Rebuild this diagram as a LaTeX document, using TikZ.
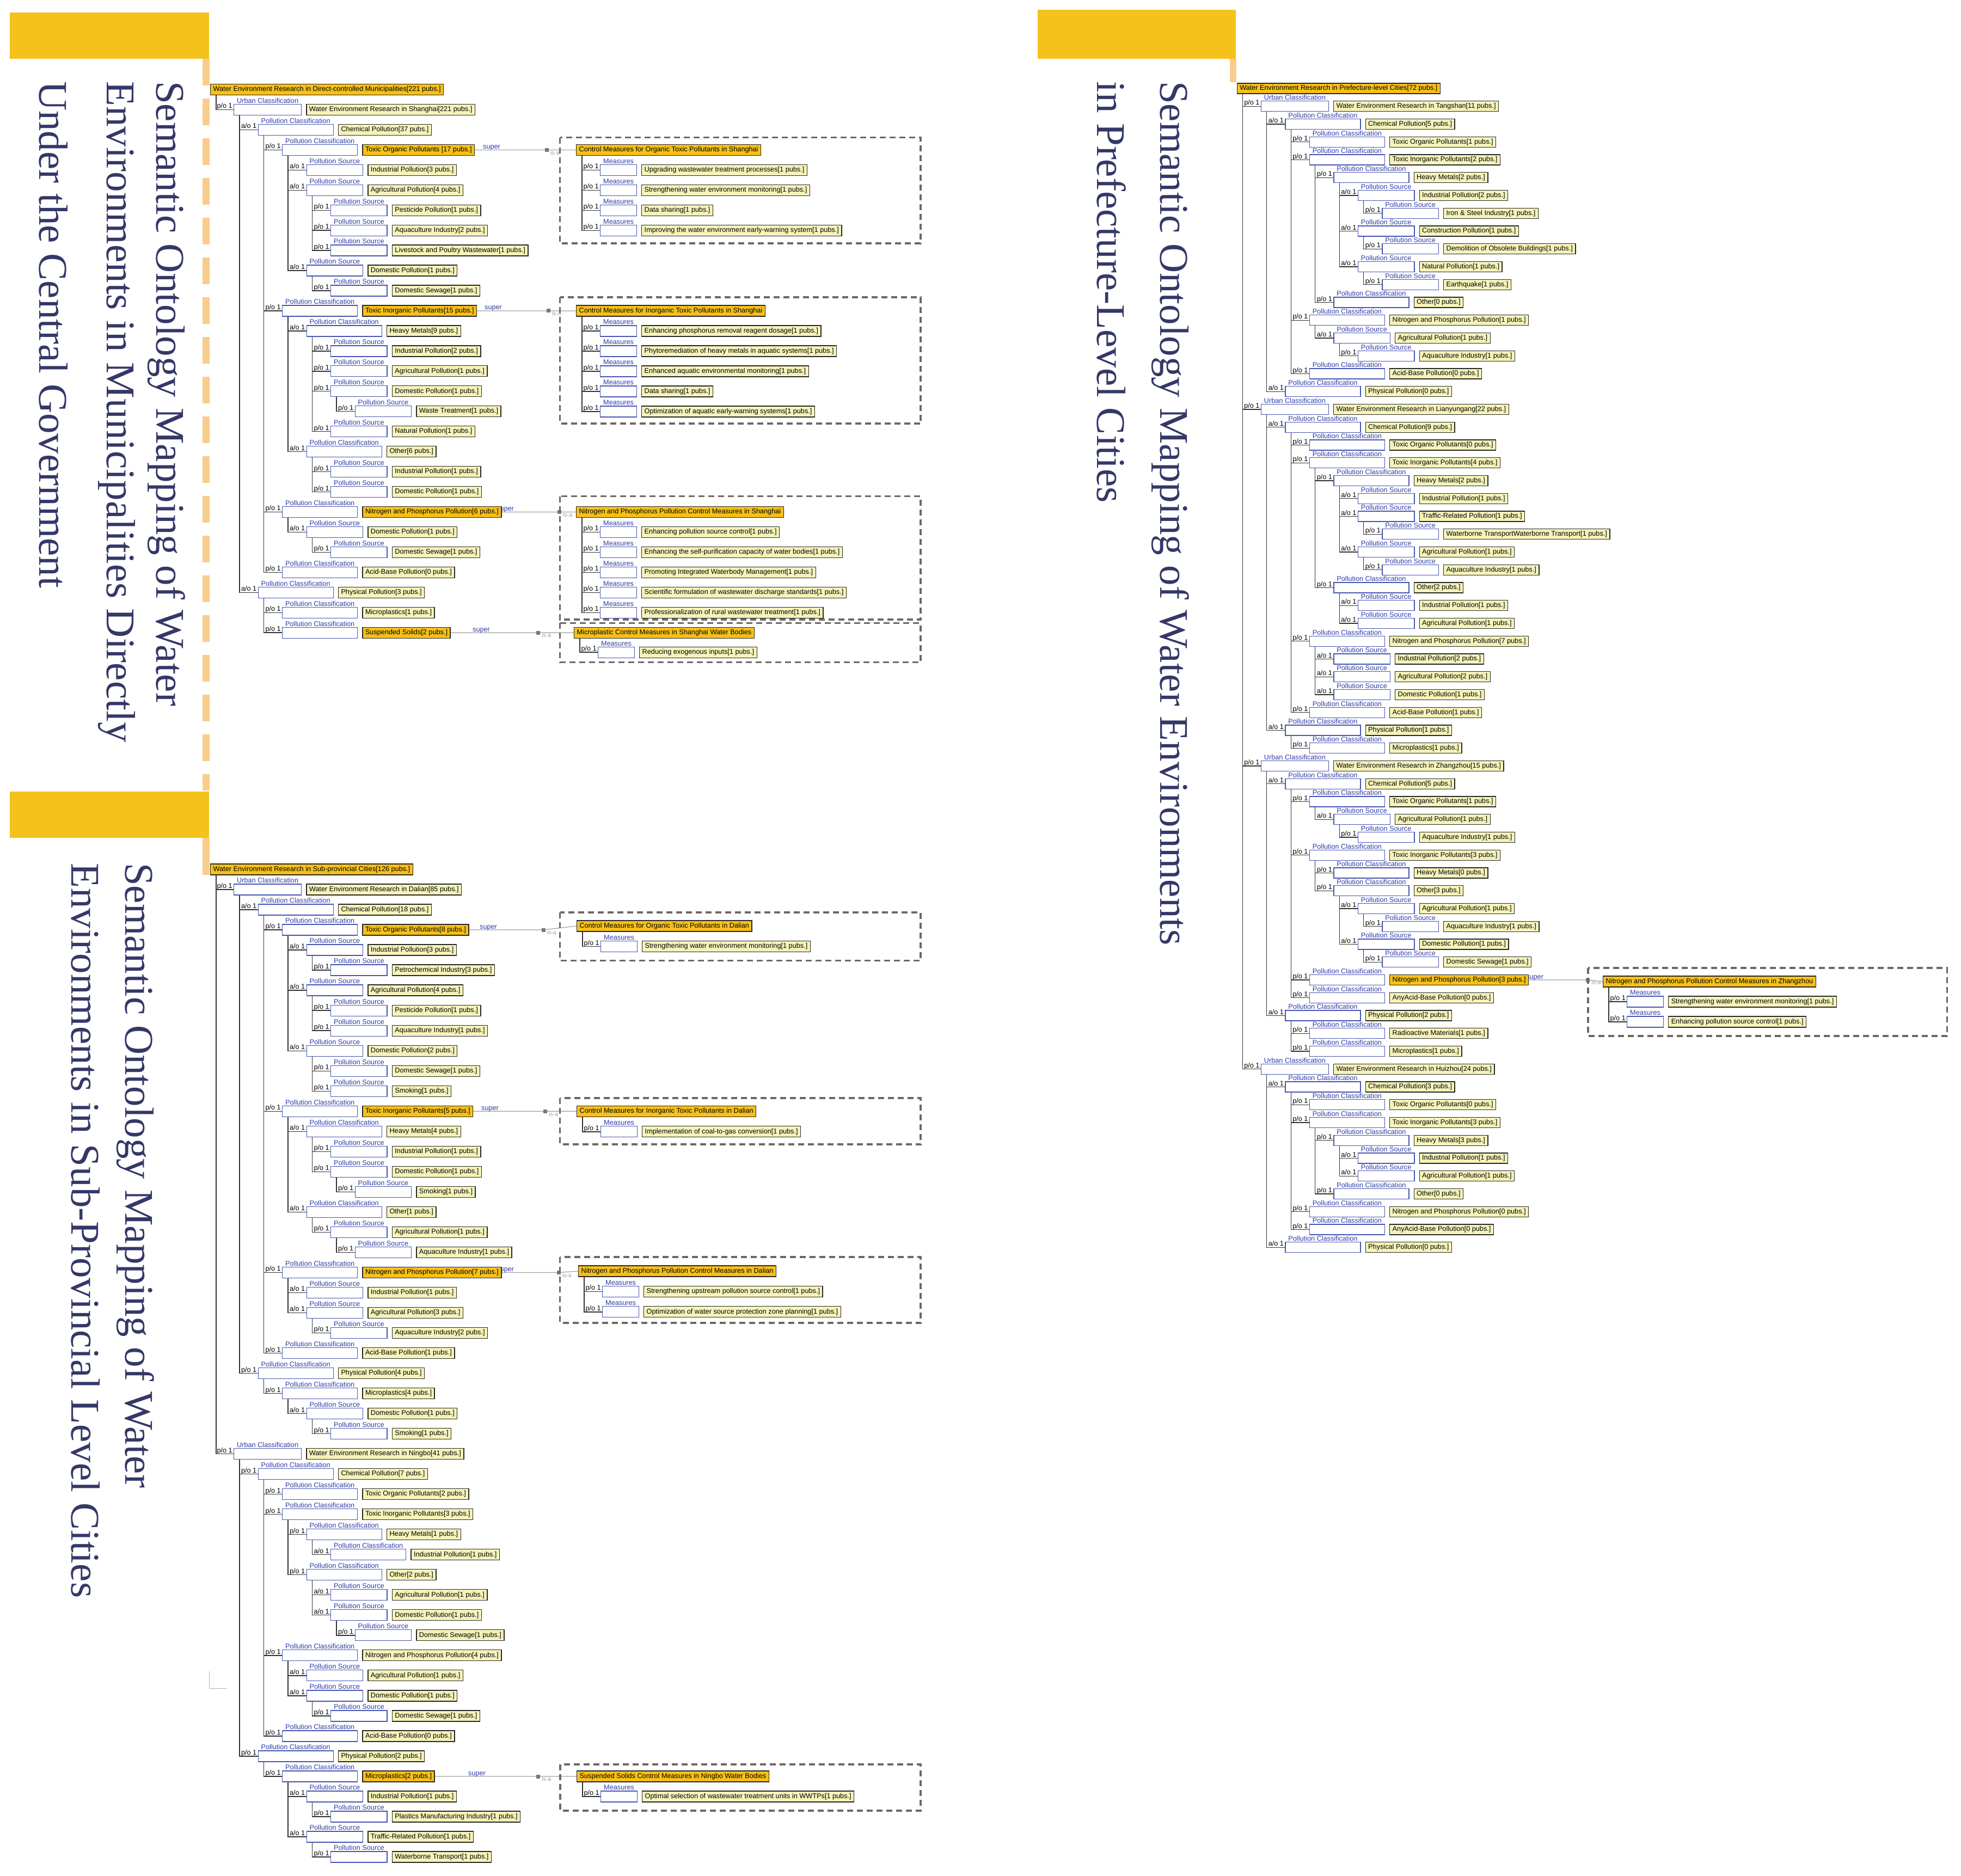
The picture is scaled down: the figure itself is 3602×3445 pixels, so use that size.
\documentclass[tikz,border=0pt]{standalone}
\usepackage{fontspec}
\setmainfont{Liberation Sans}
\newfontfamily\titlefont{Liberation Serif}
\usetikzlibrary{calc}
\definecolor{org}{RGB}{246,192,24}
\definecolor{hdr}{RGB}{245,194,28}
\definecolor{lorg}{RGB}{248,205,140}
\definecolor{ylw}{RGB}{245,243,185}
\definecolor{ndark}{RGB}{40,40,40}
\definecolor{bblue}{RGB}{70,85,180}
\definecolor{lblue}{RGB}{45,60,165}
\definecolor{lined}{RGB}{50,50,50}
\definecolor{pgray}{RGB}{110,104,98}
\definecolor{sgray}{RGB}{160,160,160}
\definecolor{qgray}{RGB}{120,120,120}
\definecolor{ttlc}{RGB}{52,56,104}
\pgfdeclarelayer{back}\pgfdeclarelayer{bg}\pgfsetlayers{back,bg,main}
\def\LABUC{Urban Classification}
\def\LABPC{Pollution Classification}
\def\LABPS{Pollution Source}
\def\LABM{Measures}
\def\RELp{p/o 1}
\def\RELa{a/o 1}
% #2 name, #3 parent, #4 index, #5 depth, #6 relation, #7 label key, #8 text
\newcommand\Rw[8][ynode]{%
  \node[bbox] (#2b) at ({\TX+44.5*#5},{\TY+#4*\TP}) {\phantom{\csname LAB#7\endcsname}};
  \node[lab] (#2l) at ([xshift=6pt,yshift=1.5pt]#2b.north west) {\csname LAB#7\endcsname};
  \node[rel] (#2r) at ([xshift=-2pt,yshift=2.5pt]#2b.west) {\csname REL#6\endcsname};
  \node[#1] (#2) at ([xshift=8pt]#2b.east) {#8};
  \draw[conn] ([xshift=11pt]#3.south west) |- (#2b.west);
}
\newcommand\Rt[3]{\node[onode] (#1) at (#2) {#3};}
% #1 id, #2 tree node, #3 panel root, #4 square x, #5 super x, #6 y
\newcommand\SupL[6]{%
  \coordinate (q#1) at (#4,#6);
  \draw[sline] (#2.east) -- (q#1) -- (#3.west);
  \node[sq] (qs#1) at (q#1) {};
  \node[suplab,yshift=2pt] (su#1) at (#5,#6) {super};
  \node[isalab] (is#1) at ([xshift=3pt,yshift=-1pt]qs#1.east) {is-a};
}
\begin{document}
\begin{tikzpicture}[x=1pt,y=-1pt,
  every node/.style={font=\fontsize{12.7}{15}\selectfont},
  bbox/.style={draw=bblue, line width=1.3pt, fill=white, minimum height=\BH*1pt, inner xsep=5.5pt, inner ysep=0pt, anchor=west},
  ynode/.style={draw=ndark, line width=1.3pt, fill=ylw, minimum height=\BH*1pt, inner xsep=5pt, inner ysep=0pt, anchor=west},
  onode/.style={ynode, fill=org},
  lab/.style={text=lblue, inner sep=0pt, anchor=base west},
  rel/.style={inner sep=0pt, anchor=base east},
  conn/.style={draw=lined, line width=1.4pt},
  panel/.style={draw=pgray, line width=3.2pt, dash pattern=on 11pt off 7pt},
  sline/.style={draw=sgray, line width=1.2pt},
  sq/.style={fill=qgray, minimum size=7pt, inner sep=0pt},
  suplab/.style={text=lblue, inner sep=0pt, anchor=base west},
  isalab/.style={text=sgray, inner sep=0pt, anchor=north west, font=\fontsize{10.5}{12}\selectfont},
  ttlstyle/.style={text=ttlc, inner sep=0pt, rotate=-90, anchor=base west, font=\titlefont\fontsize{75}{80}\selectfont},
]
\begin{pgfonlayer}{back}
\fill[white] (0,0) rectangle (3602,3445);
\end{pgfonlayer}
\useasboundingbox (0,0) rectangle (3602,3445);

% ---------- decorations and titles ----------
\fill[hdr] (18,23) rectangle (384,108);
\draw[lorg, line width=13pt, dash pattern=on 49pt off 24pt] (378.5,108) -- (378.5,1452);
\fill[hdr] (18,1454) rectangle (384,1539);
\fill[lorg] (372,1539) rectangle (385,1607);
\fill[hdr] (1906,18) rectangle (2270,108);
\fill[lorg] (2259,108) rectangle (2271,151);
\draw[gray!60, line width=1pt] (384.7,3070) |- (417,3101);

\node[ttlstyle] (t1) at (287,149) {Semantic Ontology Mapping of Water};
\node[ttlstyle] (t2) at (196,149) {Environments in Municipalities Directly};
\node[ttlstyle] (t3) at (72,149) {Under the Central Government};
\node[ttlstyle] (t4) at (2131,149) {Semantic Ontology Mapping of Water Environments};
\node[ttlstyle] (t5) at (2015,149) {in Prefecture-Level Cities};
\node[ttlstyle] (t6) at (230,1585) {Semantic Ontology Mapping of Water};
\node[ttlstyle] (t7) at (131,1585) {Environments in Sub-Provincial Level Cities};

% ---------- Direct-controlled municipalities ----------
\def\BH{20}\def\TX{429}\def\TY{164.5}\def\TP{36.95}
\Rt{a0}{386,164.5}{Water Environment Research in Direct-controlled Municipalities[221 pubs.]}
\Rw{a1}{a0}{1}{0}{p}{UC}{Water Environment Research in Shanghai[221 pubs.]}
\Rw{a2}{a1b}{2}{1}{a}{PC}{Chemical Pollution[37 pubs.]}
\Rw[onode]{a3}{a2b}{3}{2}{p}{PC}{Toxic Organic Pollutants [17 pubs.]}
\Rw{a4}{a3b}{4}{3}{a}{PS}{Industrial Pollution[3 pubs.]}
\Rw{a5}{a3b}{5}{3}{a}{PS}{Agricultural Pollution[4 pubs.]}
\Rw{a6}{a5b}{6}{4}{p}{PS}{Pesticide Pollution[1 pubs.]}
\Rw{a7}{a5b}{7}{4}{p}{PS}{Aquaculture Industry[2 pubs.]}
\Rw{a8}{a5b}{8}{4}{p}{PS}{Livestock and Poultry Wastewater[1 pubs.]}
\Rw{a9}{a3b}{9}{3}{a}{PS}{Domestic Pollution[1 pubs.]}
\Rw{a10}{a9b}{10}{4}{p}{PS}{Domestic Sewage[1 pubs.]}
\Rw[onode]{a11}{a2b}{11}{2}{p}{PC}{Toxic Inorganic Pollutants[15 pubs.]}
\Rw{a12}{a11b}{12}{3}{a}{PC}{Heavy Metals[9 pubs.]}
\Rw{a13}{a12b}{13}{4}{p}{PS}{Industrial Pollution[2 pubs.]}
\Rw{a14}{a12b}{14}{4}{p}{PS}{Agricultural Pollution[1 pubs.]}
\Rw{a15}{a12b}{15}{4}{p}{PS}{Domestic Pollution[1 pubs.]}
\Rw{a16}{a15b}{16}{5}{p}{PS}{Waste Treatment[1 pubs.]}
\Rw{a17}{a12b}{17}{4}{p}{PS}{Natural Pollution[1 pubs.]}
\Rw{a18}{a11b}{18}{3}{a}{PC}{Other[6 pubs.]}
\Rw{a19}{a18b}{19}{4}{p}{PS}{Industrial Pollution[1 pubs.]}
\Rw{a20}{a18b}{20}{4}{p}{PS}{Domestic Pollution[1 pubs.]}
\Rw[onode]{a21}{a2b}{21}{2}{p}{PC}{Nitrogen and Phosphorus Pollution[6 pubs.]}
\Rw{a22}{a21b}{22}{3}{a}{PS}{Domestic Pollution[1 pubs.]}
\Rw{a23}{a22b}{23}{4}{p}{PS}{Domestic Sewage[1 pubs.]}
\Rw{a24}{a2b}{24}{2}{p}{PC}{Acid-Base Pollution[0 pubs.]}
\Rw{a25}{a1b}{25}{1}{a}{PC}{Physical Pollution[3 pubs.]}
\Rw{a26}{a25b}{26}{2}{p}{PC}{Microplastics[1 pubs.]}
\Rw[onode]{a27}{a25b}{27}{2}{p}{PC}{Suspended Solids[2 pubs.]}

% Shanghai measure panels
\draw[panel] (1028.5,252.5) rectangle (1691,447);
\def\TX{1102}\def\TY{275.35}\def\TP{37}
\Rt{mA}{1058,275.35}{Control Measures for Organic Toxic Pollutants in Shanghai}
\Rw{mA1}{mA}{1}{0}{p}{M}{Upgrading wastewater treatment processes[1 pubs.]}
\Rw{mA2}{mA}{2}{0}{p}{M}{Strengthening water environment monitoring[1 pubs.]}
\Rw{mA3}{mA}{3}{0}{p}{M}{Data sharing[1 pubs.]}
\Rw{mA4}{mA}{4}{0}{p}{M}{Improving the water environment early-warning system[1 pubs.]}

\draw[panel] (1028.5,546) rectangle (1691,778);
\def\TY{570.95}
\Rt{mB}{1058,570.95}{Control Measures for Inorganic Toxic Pollutants in Shanghai}
\Rw{mB1}{mB}{1}{0}{p}{M}{Enhancing phosphorus removal reagent dosage[1 pubs.]}
\Rw{mB2}{mB}{2}{0}{p}{M}{Phytoremediation of heavy metals in aquatic systems[1 pubs.]}
\Rw{mB3}{mB}{3}{0}{p}{M}{Enhanced aquatic environmental monitoring[1 pubs.]}
\Rw{mB4}{mB}{4}{0}{p}{M}{Data sharing[1 pubs.]}
\Rw{mB5}{mB}{5}{0}{p}{M}{Optimization of aquatic early-warning systems[1 pubs.]}

\draw[panel] (1028.5,911.7) rectangle (1691,1138);
\def\TY{940.45}
\Rt{mC}{1058,940.45}{Nitrogen and Phosphorus Pollution Control Measures in Shanghai}
\Rw{mC1}{mC}{1}{0}{p}{M}{Enhancing pollution source control[1 pubs.]}
\Rw{mC2}{mC}{2}{0}{p}{M}{Enhancing the self-purification capacity of water bodies[1 pubs.]}
\Rw{mC3}{mC}{3}{0}{p}{M}{Promoting Integrated Waterbody Management[1 pubs.]}
\Rw{mC4}{mC}{4}{0}{p}{M}{Scientific formulation of wastewater discharge standards[1 pubs.]}
\Rw{mC5}{mC}{5}{0}{p}{M}{Professionalization of rural wastewater treatment[1 pubs.]}

\draw[panel] (1028.5,1144.3) rectangle (1691,1216.7);
\def\TX{1098}\def\TY{1162.15}\def\TP{36}
\Rt{mD}{1054,1162.15}{Microplastic Control Measures in Shanghai Water Bodies}
\Rw{mD1}{mD}{1}{0}{p}{M}{Reducing exogenous inputs[1 pubs.]}

% ---------- Sub-provincial cities ----------
\def\TX{429}\def\TY{1597}\def\TP{37.02}
\Rt{b0}{386,1597}{Water Environment Research in Sub-provincial Cities[126 pubs.]}
\Rw{b1}{b0}{1}{0}{p}{UC}{Water Environment Research in Dalian[85 pubs.]}
\Rw{b2}{b1b}{2}{1}{a}{PC}{Chemical Pollution[18 pubs.]}
\Rw[onode]{b3}{b2b}{3}{2}{p}{PC}{Toxic Organic Pollutants[8 pubs.]}
\Rw{b4}{b3b}{4}{3}{a}{PS}{Industrial Pollution[3 pubs.]}
\Rw{b5}{b4b}{5}{4}{p}{PS}{Petrochemical Industry[3 pubs.]}
\Rw{b6}{b3b}{6}{3}{a}{PS}{Agricultural Pollution[4 pubs.]}
\Rw{b7}{b6b}{7}{4}{p}{PS}{Pesticide Pollution[1 pubs.]}
\Rw{b8}{b6b}{8}{4}{p}{PS}{Aquaculture Industry[1 pubs.]}
\Rw{b9}{b3b}{9}{3}{a}{PS}{Domestic Pollution[2 pubs.]}
\Rw{b10}{b9b}{10}{4}{p}{PS}{Domestic Sewage[1 pubs.]}
\Rw{b11}{b9b}{11}{4}{p}{PS}{Smoking[1 pubs.]}
\Rw[onode]{b12}{b2b}{12}{2}{p}{PC}{Toxic Inorganic Pollutants[5 pubs.]}
\Rw{b13}{b12b}{13}{3}{a}{PC}{Heavy Metals[4 pubs.]}
\Rw{b14}{b13b}{14}{4}{p}{PS}{Industrial Pollution[1 pubs.]}
\Rw{b15}{b13b}{15}{4}{p}{PS}{Domestic Pollution[1 pubs.]}
\Rw{b16}{b15b}{16}{5}{p}{PS}{Smoking[1 pubs.]}
\Rw{b17}{b12b}{17}{3}{a}{PC}{Other[1 pubs.]}
\Rw{b18}{b17b}{18}{4}{p}{PS}{Agricultural Pollution[1 pubs.]}
\Rw{b19}{b18b}{19}{5}{p}{PS}{Aquaculture Industry[1 pubs.]}
\Rw[onode]{b20}{b2b}{20}{2}{p}{PC}{Nitrogen and Phosphorus Pollution[7 pubs.]}
\Rw{b21}{b20b}{21}{3}{a}{PS}{Industrial Pollution[1 pubs.]}
\Rw{b22}{b20b}{22}{3}{a}{PS}{Agricultural Pollution[3 pubs.]}
\Rw{b23}{b22b}{23}{4}{p}{PS}{Aquaculture Industry[2 pubs.]}
\Rw{b24}{b2b}{24}{2}{p}{PC}{Acid-Base Pollution[1 pubs.]}
\Rw{b25}{b1b}{25}{1}{p}{PC}{Physical Pollution[4 pubs.]}
\Rw{b26}{b25b}{26}{2}{p}{PC}{Microplastics[4 pubs.]}
\Rw{b27}{b26b}{27}{3}{a}{PS}{Domestic Pollution[1 pubs.]}
\Rw{b28}{b27b}{28}{4}{p}{PS}{Smoking[1 pubs.]}
\Rw{b29}{b0}{29}{0}{p}{UC}{Water Environment Research in Ningbo[41 pubs.]}
\Rw{b30}{b29b}{30}{1}{p}{PC}{Chemical Pollution[7 pubs.]}
\Rw{b31}{b30b}{31}{2}{p}{PC}{Toxic Organic Pollutants[2 pubs.]}
\Rw{b32}{b30b}{32}{2}{p}{PC}{Toxic Inorganic Pollutants[3 pubs.]}
\Rw{b33}{b32b}{33}{3}{p}{PC}{Heavy Metals[1 pubs.]}
\Rw{b34}{b33b}{34}{4}{a}{PC}{Industrial Pollution[1 pubs.]}
\Rw{b35}{b32b}{35}{3}{p}{PC}{Other[2 pubs.]}
\Rw{b36}{b35b}{36}{4}{a}{PS}{Agricultural Pollution[1 pubs.]}
\Rw{b37}{b35b}{37}{4}{a}{PS}{Domestic Pollution[1 pubs.]}
\Rw{b38}{b37b}{38}{5}{p}{PS}{Domestic Sewage[1 pubs.]}
\Rw{b39}{b30b}{39}{2}{p}{PC}{Nitrogen and Phosphorus Pollution[4 pubs.]}
\Rw{b40}{b39b}{40}{3}{a}{PS}{Agricultural Pollution[1 pubs.]}
\Rw{b41}{b39b}{41}{3}{a}{PS}{Domestic Pollution[1 pubs.]}
\Rw{b42}{b41b}{42}{4}{p}{PS}{Domestic Sewage[1 pubs.]}
\Rw{b43}{b30b}{43}{2}{p}{PC}{Acid-Base Pollution[0 pubs.]}
\Rw{b44}{b29b}{44}{1}{p}{PC}{Physical Pollution[2 pubs.]}
\Rw[onode]{b45}{b44b}{45}{2}{p}{PC}{Microplastics[2 pubs.]}
\Rw{b46}{b45b}{46}{3}{a}{PS}{Industrial Pollution[1 pubs.]}
\Rw{b47}{b46b}{47}{4}{p}{PS}{Plastics Manufacturing Industry[1 pubs.]}
\Rw{b48}{b45b}{48}{3}{a}{PS}{Traffic-Related Pollution[1 pubs.]}
\Rw{b49}{b48b}{49}{4}{p}{PS}{Waterborne Transport[1 pubs.]}

% Dalian / Ningbo measure panels
\draw[panel] (1028.5,1676) rectangle (1691,1764.5);
\def\TX{1103}\def\TY{1701}\def\TP{37.6}
\Rt{mE}{1059,1701}{Control Measures for Organic Toxic Pollutants in Dalian}
\Rw{mE1}{mE}{1}{0}{p}{M}{Strengthening water environment monitoring[1 pubs.]}

\draw[panel] (1028.5,2017) rectangle (1691,2102);
\def\TY{2041.3}\def\TP{37.5}
\Rt{mF}{1059,2041.3}{Control Measures for Inorganic Toxic Pollutants in Dalian}
\Rw{mF1}{mF}{1}{0}{p}{M}{Implementation of coal-to-gas conversion[1 pubs.]}

\draw[panel] (1028.5,2309) rectangle (1691,2430);
\def\TX{1106}\def\TY{2335}\def\TP{37.4}
\Rt{mG}{1062,2335}{Nitrogen and Phosphorus Pollution Control Measures in Dalian}
\Rw{mG1}{mG}{1}{0}{p}{M}{Strengthening upstream pollution source control[1 pubs.]}
\Rw{mG2}{mG}{2}{0}{p}{M}{Optimization of water source protection zone planning[1 pubs.]}

\draw[panel] (1029,3241) rectangle (1691,3326);
\def\TX{1103}\def\TY{3263}\def\TP{37}
\Rt{mH}{1059,3263}{Suspended Solids Control Measures in Ningbo Water Bodies}
\Rw{mH1}{mH}{1}{0}{p}{M}{Optimal selection of wastewater treatment units in WWTPs[1 pubs.]}

% ---------- Prefecture-level cities ----------
\def\BH{19}\def\TX{2315.7}\def\TY{162.5}\def\TP{32.75}
\Rt{c0}{2271.6,162.5}{Water Environment Research in Prefecture-level Cities[72 pubs.]}
\Rw{c1}{c0}{1}{0}{p}{UC}{Water Environment Research in Tangshan[11 pubs.]}
\Rw{c2}{c1b}{2}{1}{a}{PC}{Chemical Pollution[5 pubs.]}
\Rw{c3}{c2b}{3}{2}{p}{PC}{Toxic Organic Pollutants[1 pubs.]}
\Rw{c4}{c2b}{4}{2}{p}{PC}{Toxic Inorganic Pollutants[2 pubs.]}
\Rw{c5}{c4b}{5}{3}{p}{PC}{Heavy Metals[2 pubs.]}
\Rw{c6}{c5b}{6}{4}{a}{PS}{Industrial Pollution[2 pubs.]}
\Rw{c7}{c6b}{7}{5}{p}{PS}{Iron \& Steel Industry[1 pubs.]}
\Rw{c8}{c5b}{8}{4}{a}{PS}{Construction Pollution[1 pubs.]}
\Rw{c9}{c8b}{9}{5}{p}{PS}{Demolition of Obsolete Buildings[1 pubs.]}
\Rw{c10}{c5b}{10}{4}{a}{PS}{Natural Pollution[1 pubs.]}
\Rw{c11}{c10b}{11}{5}{p}{PS}{Earthquake[1 pubs.]}
\Rw{c12}{c4b}{12}{3}{p}{PC}{Other[0 pubs.]}
\Rw{c13}{c2b}{13}{2}{p}{PC}{Nitrogen and Phosphorus Pollution[1 pubs.]}
\Rw{c14}{c13b}{14}{3}{a}{PS}{Agricultural Pollution[1 pubs.]}
\Rw{c15}{c14b}{15}{4}{p}{PS}{Aquaculture Industry[1 pubs.]}
\Rw{c16}{c2b}{16}{2}{p}{PC}{Acid-Base Pollution[0 pubs.]}
\Rw{c17}{c1b}{17}{1}{a}{PC}{Physical Pollution[0 pubs.]}
\Rw{c18}{c0}{18}{0}{p}{UC}{Water Environment Research in Lianyungang[22 pubs.]}
\Rw{c19}{c18b}{19}{1}{a}{PC}{Chemical Pollution[9 pubs.]}
\Rw{c20}{c19b}{20}{2}{p}{PC}{Toxic Organic Pollutants[0 pubs.]}
\Rw{c21}{c19b}{21}{2}{p}{PC}{Toxic Inorganic Pollutants[4 pubs.]}
\Rw{c22}{c21b}{22}{3}{p}{PC}{Heavy Metals[2 pubs.]}
\Rw{c23}{c22b}{23}{4}{a}{PS}{Industrial Pollution[1 pubs.]}
\Rw{c24}{c22b}{24}{4}{a}{PS}{Traffic-Related Pollution[1 pubs.]}
\Rw{c25}{c24b}{25}{5}{p}{PS}{Waterborne TransportWaterborne Transport[1 pubs.]}
\Rw{c26}{c22b}{26}{4}{a}{PS}{Agricultural Pollution[1 pubs.]}
\Rw{c27}{c26b}{27}{5}{p}{PS}{Aquaculture Industry[1 pubs.]}
\Rw{c28}{c21b}{28}{3}{p}{PC}{Other[2 pubs.]}
\Rw{c29}{c28b}{29}{4}{a}{PS}{Industrial Pollution[1 pubs.]}
\Rw{c30}{c28b}{30}{4}{a}{PS}{Agricultural Pollution[1 pubs.]}
\Rw{c31}{c19b}{31}{2}{p}{PC}{Nitrogen and Phosphorus Pollution[7 pubs.]}
\Rw{c32}{c31b}{32}{3}{a}{PS}{Industrial Pollution[2 pubs.]}
\Rw{c33}{c31b}{33}{3}{a}{PS}{Agricultural Pollution[2 pubs.]}
\Rw{c34}{c31b}{34}{3}{a}{PS}{Domestic Pollution[1 pubs.]}
\Rw{c35}{c19b}{35}{2}{p}{PC}{Acid-Base Pollution[1 pubs.]}
\Rw{c36}{c18b}{36}{1}{a}{PC}{Physical Pollution[1 pubs.]}
\Rw{c37}{c36b}{37}{2}{p}{PC}{Microplastics[1 pubs.]}
\Rw{c38}{c0}{38}{0}{p}{UC}{Water Environment Research in Zhangzhou[15 pubs.]}
\Rw{c39}{c38b}{39}{1}{a}{PC}{Chemical Pollution[5 pubs.]}
\Rw{c40}{c39b}{40}{2}{p}{PC}{Toxic Organic Pollutants[1 pubs.]}
\Rw{c41}{c40b}{41}{3}{a}{PS}{Agricultural Pollution[1 pubs.]}
\Rw{c42}{c41b}{42}{4}{p}{PS}{Aquaculture Industry[1 pubs.]}
\Rw{c43}{c39b}{43}{2}{p}{PC}{Toxic Inorganic Pollutants[3 pubs.]}
\Rw{c44}{c43b}{44}{3}{p}{PC}{Heavy Metals[0 pubs.]}
\Rw{c45}{c43b}{45}{3}{p}{PC}{Other[3 pubs.]}
\Rw{c46}{c45b}{46}{4}{a}{PS}{Agricultural Pollution[1 pubs.]}
\Rw{c47}{c46b}{47}{5}{p}{PS}{Aquaculture Industry[1 pubs.]}
\Rw{c48}{c45b}{48}{4}{a}{PS}{Domestic Pollution[1 pubs.]}
\Rw{c49}{c48b}{49}{5}{p}{PS}{Domestic Sewage[1 pubs.]}
\Rw[onode]{c50}{c39b}{50}{2}{p}{PC}{Nitrogen and Phosphorus Pollution[3 pubs.]}
\Rw{c51}{c39b}{51}{2}{p}{PC}{AnyAcid-Base Pollution[0 pubs.]}
\Rw{c52}{c38b}{52}{1}{a}{PC}{Physical Pollution[2 pubs.]}
\Rw{c53}{c52b}{53}{2}{p}{PC}{Radioactive Materials[1 pubs.]}
\Rw{c54}{c52b}{54}{2}{p}{PC}{Microplastics[1 pubs.]}
\Rw{c55}{c0}{55}{0}{p}{UC}{Water Environment Research in Huizhou[24 pubs.]}
\Rw{c56}{c55b}{56}{1}{a}{PC}{Chemical Pollution[3 pubs.]}
\Rw{c57}{c56b}{57}{2}{p}{PC}{Toxic Organic Pollutants[0 pubs.]}
\Rw{c58}{c56b}{58}{2}{p}{PC}{Toxic Inorganic Pollutants[3 pubs.]}
\Rw{c59}{c58b}{59}{3}{p}{PC}{Heavy Metals[3 pubs.]}
\Rw{c60}{c59b}{60}{4}{a}{PS}{Industrial Pollution[1 pubs.]}
\Rw{c61}{c59b}{61}{4}{a}{PS}{Agricultural Pollution[1 pubs.]}
\Rw{c62}{c58b}{62}{3}{p}{PC}{Other[0 pubs.]}
\Rw{c63}{c56b}{63}{2}{p}{PC}{Nitrogen and Phosphorus Pollution[0 pubs.]}
\Rw{c64}{c56b}{64}{2}{p}{PC}{AnyAcid-Base Pollution[0 pubs.]}
\Rw{c65}{c55b}{65}{1}{a}{PC}{Physical Pollution[0 pubs.]}

% Zhangzhou panel
\draw[panel] (2917,1778) rectangle (3576.5,1903);
\def\BH{20}\def\TX{2988}\def\TY{1803}\def\TP{37}
\Rt{mZ}{2944,1803}{Nitrogen and Phosphorus Pollution Control Measures in Zhangzhou}
\Rw{mZ1}{mZ}{1}{0}{p}{M}{Strengthening water environment monitoring[1 pubs.]}
\Rw{mZ2}{mZ}{2}{0}{p}{M}{Enhancing pollution source control[1 pubs.]}

% ---------- super / is-a links ----------
\begin{pgfonlayer}{bg}
\SupL{A}{a3}{mA}{1004}{887}{275.35}
\SupL{B}{a11}{mB}{1007}{890}{570.95}
\SupL{C}{a21}{mC}{1027.5}{912}{940.45}
\SupL{D}{a27}{mD}{988.5}{868}{1162.15}
\SupL{E}{b3}{mE}{998}{881}{1708}
\SupL{F}{b12}{mF}{1001.5}{884}{2041.2}
\SupL{G}{b20}{mG}{1026}{912}{2337.4}
\SupL{H}{b45}{mH}{988.5}{860}{3263}
\SupL{Z}{c50}{mZ}{2916.5}{2803}{1800}
\end{pgfonlayer}
\end{tikzpicture}
\end{document}
